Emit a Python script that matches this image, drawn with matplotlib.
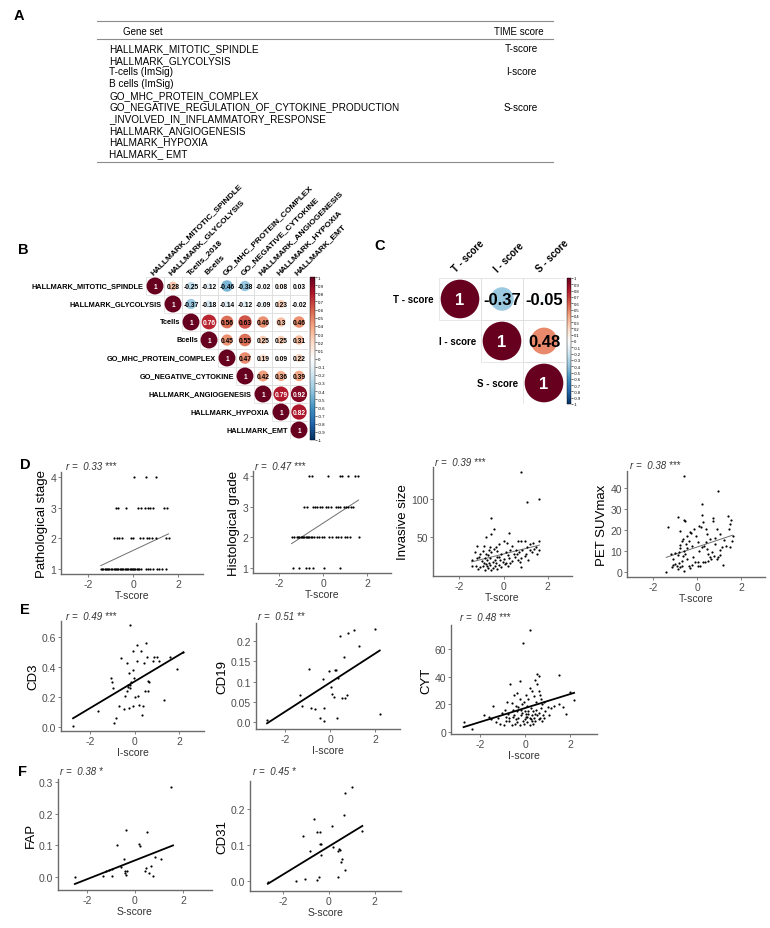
import numpy as np
import matplotlib
matplotlib.use("Agg")
import matplotlib.pyplot as plt
from matplotlib.patches import Circle, Rectangle
from matplotlib.colors import LinearSegmentedColormap, Normalize
from matplotlib.cm import ScalarMappable

plt.rcParams['font.family'] = ['Liberation Sans', 'DejaVu Sans']

# ---------------- data ----------------
gene_sets = ["HALLMARK_MITOTIC_SPINDLE", "HALLMARK_GLYCOLYSIS", "T-cells (ImSig)",
             "B cells (ImSig)", "GO_MHC_PROTEIN_COMPLEX",
             "GO_NEGATIVE_REGULATION_OF_CYTOKINE_PRODUCTION",
             "_INVOLVED_IN_INFLAMMATORY_RESPONSE", "HALLMARK_ANGIOGENESIS",
             "HALMARK_HYPOXIA", "HALMARK_ EMT"]
time_scores = ["T-score", "I-score", "S-score"]
time_rows = [0, 2, 5]

gs_rows = ["HALLMARK_MITOTIC_SPINDLE", "HALLMARK_GLYCOLYSIS", "Tcells", "Bcells",
           "GO_MHC_PROTEIN_COMPLEX", "GO_NEGATIVE_CYTOKINE", "HALLMARK_ANGIOGENESIS",
           "HALLMARK_HYPOXIA", "HALLMARK_EMT"]
gs_cols = ["HALLMARK_MITOTIC_SPINDLE", "HALLMARK_GLYCOLYSIS", "Tcells_2018", "Bcells",
           "GO_MHC_PROTEIN_COMPLEX", "GO_NEGATIVE_CYTOKINE", "HALLMARK_ANGIOGENESIS",
           "HALLMARK_HYPOXIA", "HALLMARK_EMT"]
gs_corr = [[1, 0.28, -0.25, -0.12, -0.46, -0.38, -0.02, 0.08, 0.03],
           [1, -0.37, -0.18, -0.14, -0.12, -0.09, 0.23, -0.02],
           [1, 0.76, 0.56, 0.63, 0.46, 0.3, 0.46],
           [1, 0.45, 0.55, 0.25, 0.25, 0.31],
           [1, 0.47, 0.19, 0.09, 0.22],
           [1, 0.42, 0.36, 0.39],
           [1, 0.79, 0.92],
           [1, 0.82],
           [1]]

score_names = ["T - score", "I - score", "S - score"]
score_corr = [[1, -0.37, -0.05],
              [1, 0.48],
              [1]]

# D: T-score vs pathological stage / histological grade
stage1_t = [-1.44, -1.38, -1.32, -1.26, -1.2, -1.15, -1.1, -1.05, -0.99, -0.93, -0.87, -0.82,
            -0.77, -0.71, -0.65, -0.6, -0.55, -0.49, -0.43, -0.38, -0.33, -0.27, -0.21, -0.16,
            -0.11, -0.05, 0.0, 0.05, 0.1, 0.16, 0.22, 0.27, 0.33, 0.55, 0.67, 0.77, 0.89,
            1.04, 1.16, 1.29, 1.44]
stage2_t = [-0.83, -0.72, -0.61, -0.5, -0.09, 0.01, 0.31, 0.43, 0.61, 0.71, 0.83, 1.02, 1.45, 1.57]
stage3_t = [-0.77, -0.65, -0.32, 0.21, 0.36, 0.53, 0.65, 0.76, 0.86, 1.35, 1.5]
stage4_t = [0.05, 0.55, 1.0]
stage_fit_x = [-1.44, 1.57]
stage_fit_y = [1.12, 2.15]

grade1_t = [-1.39, -1.09, -0.78, -0.63, -0.47, 0.06, 0.75]
grade2_t = [-1.44, -1.32, -1.21, -1.15, -1.09, -1.03, -0.98, -0.92, -0.86, -0.8, -0.75, -0.69,
            -0.63, -0.57, -0.52, -0.4, -0.29, -0.17, -0.06, 0.06, 0.29, 0.4, 0.6, 0.7, 0.83,
            0.98, 1.09, 1.21, 1.62]
grade3_t = [-0.86, -0.75, -0.47, -0.37, -0.26, -0.15, -0.03, 0.12, 0.23, 0.34, 0.57, 0.68,
            0.78, 0.94, 1.04, 1.15, 1.26, 1.38]
grade4_t = [-0.63, -0.52, 0.22, 0.75, 0.86, 1.13, 1.47, 1.59]
grade_fit_x = [-1.44, 1.62]
grade_fit_y = [1.8, 3.21]

invasive_pts = [(0.8, 135), (1.05, 95), (1.6, 100), (-0.57, 74), (-0.45, 60), (-0.57, 53),
                (-0.8, 50), (0.25, 55), (0.0, 45), (0.15, 42), (0.65, 45), (0.8, 45), (0.95, 44),
                (1.2, 40), (1.35, 42), (1.6, 45), (0.4, 38), (-0.2, 40), (-0.35, 36), (-0.6, 37),
                (-0.9, 38), (-1.2, 38), (1.05, 37), (1.45, 37), (0.55, 33), (-0.65, 33),
                (-0.45, 34), (-1.3, 30), (-1.05, 27), (-0.8, 28), (-0.55, 30), (-0.3, 31),
                (-0.1, 28), (0.1, 30), (0.3, 32), (0.45, 28), (0.7, 30), (0.85, 33), (1.0, 28),
                (1.2, 33), (1.3, 30), (1.5, 28), (1.6, 32), (-0.95, 31), (-0.7, 26), (0.6, 27),
                (1.4, 34), (0.2, 26), (-0.2, 24), (-1.45, 20), (-1.2, 22), (-1.0, 18),
                (-0.85, 22), (-0.75, 19), (-0.6, 22), (-0.5, 17), (-0.4, 20), (-0.3, 23),
                (-0.15, 19), (0.0, 21), (0.1, 16), (0.25, 22), (0.4, 18), (0.5, 24), (0.65, 20),
                (0.8, 22), (0.95, 25), (1.1, 20), (-0.9, 15), (-0.65, 16), (-0.35, 15),
                (-0.05, 17), (0.3, 16), (-1.1, 24), (0.75, 17), (-1.45, 12), (-1.15, 8),
                (-1.05, 10), (-0.95, 12), (-0.85, 7), (-0.75, 11), (-0.7, 9), (-0.6, 13),
                (-0.5, 9), (-0.4, 12), (-0.3, 8), (-0.2, 13), (-0.1, 10), (0.05, 14), (0.2, 12),
                (-0.55, 6), (-1.25, 11), (0.8, 10), (-0.8, 14)]
invasive_fit_x = [-1.45, 1.62]
invasive_fit_y = [17, 39]

pet_pts = [(-0.58, 45.6), (0.94, 38.4), (0.23, 32.4), (-1.33, 21.6), (-0.85, 25.9), (-0.58, 24.5),
           (-0.55, 24.3), (0.23, 27), (0.27, 23.7), (0.71, 25.5), (0.74, 24), (1.41, 26.5),
           (1.57, 24.8), (1.52, 23), (0.09, 22), (0.18, 21.5), (-0.27, 18.6), (-0.77, 19.4),
           (-0.47, 17.3), (-0.65, 15.7), (-0.68, 14.8), (-0.8, 12.9), (-0.77, 11.3), (-0.83, 9.6),
           (-1.0, 8.9), (-1.2, 8.6), (-1.08, 6.2), (-1.11, 3.4), (-1.14, 2.2), (-1.41, 0.3),
           (-0.92, 3), (-0.89, 1.7), (-0.8, 2.4), (-0.7, 5.4), (-0.65, 7.8), (-0.55, 8.6),
           (-0.47, 6.2), (-0.39, 3), (-0.32, 2), (-0.58, 0.6), (-0.2, 7), (-0.09, 4.9),
           (0.02, 4.6), (0.03, 2.7), (0.14, 2.7), (0.09, 9.8), (0.21, 11.7), (0.32, 12.2),
           (0.41, 14.4), (0.47, 10.9), (0.52, 8.6), (0.6, 7), (0.67, 9.7), (0.79, 7.8),
           (0.91, 6.2), (1.03, 8.1), (1.06, 10.6), (1.14, 11.7), (1.21, 15.4), (1.33, 12.2),
           (1.17, 3.4), (1.52, 11.7), (1.59, 14.9), (1.44, 20.5), (0.91, 20.2), (1.03, 18.1),
           (0.6, 15.7), (0.47, 18.1), (0.41, 20.5), (-0.05, 17), (-0.14, 20.5), (-0.33, 19.2),
           (-0.39, 14.9), (-0.5, 13.3), (-0.24, 12.5), (0.02, 14.1), (0.83, 13.3), (0.8, 16),
           (1.62, 17), (0.52, 5.4), (0.38, 4.9), (0.64, 6.2), (0.94, 7), (-0.47, 11.3),
           (-0.62, 10.2), (-0.88, 8.1), (-1.03, 3.9), (-0.82, 4.3), (-0.7, 3), (-0.24, 3.4),
           (0.27, 4.9)]
pet_fit_x = [-1.41, 1.62]
pet_fit_y = [7.0, 17.5]

# E: I-score vs CD3 / CD19 / CYT
cd3_pts = [(-2.76, 0.01), (-1.63, 0.11), (-1.08, 0.33), (-1.0, 0.3), (-0.98, 0.26), (-0.93, 0.03),
           (-0.85, 0.06), (-0.7, 0.14), (-0.6, 0.46), (-0.48, 0.12), (-0.45, 0.21), (-0.36, 0.43),
           (-0.33, 0.24), (-0.25, 0.13), (-0.25, 0.36), (-0.21, 0.68), (-0.2, 0.28), (-0.17, 0.3),
           (-0.19, 0.26), (-0.1, 0.51), (-0.1, 0.38), (-0.06, 0.14), (-0.04, 0.33), (0.09, 0.44),
           (0.12, 0.55), (0.14, 0.21), (0.18, 0.15), (0.27, 0.51), (0.31, 0.08), (0.35, 0.14),
           (0.43, 0.43), (0.46, 0.24), (0.6, 0.24), (0.52, 0.56), (0.55, 0.47), (0.58, 0.31),
           (0.64, 0.3), (0.82, 0.44), (0.87, 0.47), (1.01, 0.47), (1.07, 0.44), (1.29, 0.18),
           (1.57, 0.47), (1.87, 0.39), (2.17, 0.5), (-0.32, 0.27), (-0.28, 0.28), (0.0, 0.2)]
cd3_fit_x = [-2.76, 2.17]
cd3_fit_y = [0.06, 0.50]

cd19_pts = [(-2.81, 0.005), (-1.33, 0.067), (-0.96, 0.131), (-1.26, 0.039), (-0.86, 0.036),
            (-0.67, 0.032), (-0.44, 0.009), (-0.3, 0.003), (-0.3, 0.036), (-0.32, 0.106),
            (-0.07, 0.127), (0.04, 0.088), (0.07, 0.07), (0.15, 0.061), (0.19, 0.13),
            (0.24, 0.128), (0.3, 0.01), (0.33, 0.11), (0.44, 0.212), (0.52, 0.06), (0.59, 0.16),
            (0.67, 0.06), (0.74, 0.067), (0.81, 0.22), (1.04, 0.228), (1.26, 0.188),
            (2.0, 0.231), (2.22, 0.021)]
cd19_fit_x = [-2.81, 2.2]
cd19_fit_y = [-0.003, 0.177]

cyt_pts = [(0.22, 74), (-0.1, 64.6), (1.51, 41.2), (0.52, 42), (0.62, 40.5), (-0.67, 34.7),
           (-0.22, 37), (-1.44, 19), (-1.85, 12.5), (-2.74, 7.4), (-2.37, 2.2), (1.84, 13),
           (2.0, 28.7), (2.18, 23.4), (0.45, 38), (0.55, 35), (0.6, 30), (0.3, 30), (0.2, 32),
           (0.05, 27), (-0.35, 28), (-0.5, 27), (-0.25, 24), (0.4, 26), (0.65, 27), (0.7, 24),
           (0.85, 22), (0.75, 20), (0.5, 22), (0.15, 24), (-0.05, 22), (-0.15, 20), (-0.4, 19),
           (-0.6, 21), (-0.8, 22), (-1.05, 14), (-1.2, 10), (-1.3, 7), (-1.1, 6), (-0.95, 5),
           (-0.85, 8), (-0.7, 10), (-0.75, 13), (-0.5, 12), (-0.55, 16), (-0.35, 15), (-0.3, 10),
           (-0.2, 12), (-0.1, 8), (0.0, 15), (0.05, 11), (0.1, 7), (0.15, 13), (0.25, 9),
           (0.3, 12), (0.35, 15), (0.4, 10), (0.45, 8), (0.55, 12), (0.6, 14), (0.65, 10),
           (0.7, 17), (0.8, 12), (0.9, 15), (1.0, 18), (1.15, 17), (1.3, 19), (1.5, 20),
           (1.7, 18), (-0.6, 5), (-0.45, 6), (-0.25, 5), (-0.05, 6), (0.2, 5), (0.35, 6),
           (-0.9, 16), (-1.5, 9), (-1.6, 11), (-0.3, 18), (0.1, 19), (0.25, 17), (-0.7, 8),
           (-0.4, 9), (0.5, 16), (0.75, 8), (0.05, 13), (-0.15, 14), (-0.55, 11), (0.45, 13),
           (0.2, 10), (0.0, 9), (-0.35, 7), (0.1, 11), (0.3, 8), (0.6, 9), (1.05, 12),
           (0.85, 10), (-0.85, 11), (-0.2, 16), (0.15, 15)]
cyt_fit_x = [-2.74, 2.18]
cyt_fit_y = [3.4, 28.3]

# F: S-score vs FAP / CD31
fap_pts = [(-2.5, 0.001), (-1.32, 0.002), (-1.2, 0.02), (-1.08, 0.022), (-0.95, 0.004),
           (-0.94, 0.024), (-0.74, 0.1), (-0.6, 0.033), (-0.46, 0.057), (-0.43, 0.012),
           (-0.4, 0.018), (-0.37, 0.008), (-0.39, 0.15), (-0.35, 0.02), (0.17, 0.104),
           (0.2, 0.098), (0.42, 0.018), (0.44, 0.028), (0.51, 0.143), (0.58, 0.014),
           (0.68, 0.035), (0.75, 0.004), (0.82, 0.062), (1.07, 0.058), (1.49, 0.285)]
fap_fit_x = [-2.5, 1.58]
fap_fit_y = [-0.022, 0.10]

cd31_pts = [(-2.67, -0.004), (-1.43, 0.001), (-1.04, 0.004), (-1.14, 0.126), (-0.81, 0.084),
            (-0.67, 0.172), (-0.52, 0.135), (-0.52, 0.003), (-0.42, 0.01), (-0.39, 0.102),
            (-0.37, 0.135), (-0.35, 0.102), (-0.35, 0.073), (0.12, 0.154), (0.16, 0.095),
            (0.38, 0.082), (0.4, 0.01), (0.43, 0.09), (0.47, 0.085), (0.52, 0.052),
            (0.55, 0.06), (0.67, 0.184), (0.7, 0.246), (0.72, 0.03), (1.03, 0.262), (1.46, 0.14)]
cd31_fit_x = [-2.67, 1.46]
cd31_fit_y = [-0.008, 0.153]

# ---------------- layout helpers ----------------
W, H = 770, 929


def box(l, t, r, b):
    return [l / W, 1 - b / H, (r - l) / W, (b - t) / H]


fig = plt.figure(figsize=(W / 100, H / 100), dpi=100)
ov = fig.add_axes([0, 0, 1, 1])
ov.set_xlim(0, W)
ov.set_ylim(H, 0)
ov.axis('off')

for lab, (lx, ly) in zip("ABCDEF", [(14, 16), (18, 250), (374, 246), (20, 465), (20, 610), (18, 772)]):
    ov.text(lx, ly, lab, fontsize=10.5, fontweight='bold', ha='left', va='center')

# ---------------- A: table ----------------
for yy in (22, 40, 163):
    ov.plot([97, 553], [yy, yy], color='#8c8c8c', lw=0.8)
ov.text(123, 32, "Gene set", fontsize=7, va='center')
ov.text(519, 32, "TIME score", fontsize=7, ha='center', va='center')
for i, g in enumerate(gene_sets):
    ov.text(109, 49 + 11.7 * i, g, fontsize=7.2, va='center')
for name, row in zip(time_scores, time_rows):
    ov.text(521, 49 + 11.7 * row, name, fontsize=7.2, ha='center', va='center')

# ---------------- B, C: correlation plots ----------------
cmap = LinearSegmentedColormap.from_list(
    "corr", ["#053061", "#2166AC", "#4393C3", "#92C5DE", "#D1E5F0", "#FFFFFF",
             "#FDDBC7", "#F4A582", "#D6604D", "#B2182B", "#67001F"])
norm = Normalize(-1, 1)


def corr_panel(abox, cbox, rows, cols, vals, num_fs, row_fs, col_fs, cb_fs, rad):
    ax = fig.add_axes(box(*abox))
    n = len(rows)
    ax.set_xlim(0, n)
    ax.set_ylim(n, 0)
    ax.axis('off')
    for i in range(n):
        for j in range(i, n):
            v = vals[i][j - i]
            ax.add_patch(Rectangle((j, i), 1, 1, fill=False, edgecolor='#dddddd', lw=0.5))
            ax.add_patch(Circle((j + 0.5, i + 0.5), rad * np.sqrt(abs(v)),
                                facecolor=cmap(norm(v)), edgecolor='none'))
            col = 'white' if abs(v) >= 0.75 else 'black'
            ax.text(j + 0.5, i + 0.52, f"{v:g}", ha='center', va='center',
                    fontsize=num_fs, fontweight='bold', color=col)
        ax.text(i - 0.12, i + 0.5, rows[i], ha='right', va='center',
                fontsize=row_fs, fontweight='bold')
        ax.text(i + 0.35, -0.2, cols[i], rotation=45, rotation_mode='anchor',
                ha='left', va='center', fontsize=col_fs, fontweight='bold')
    cax = fig.add_axes(box(*cbox))
    cb = fig.colorbar(ScalarMappable(norm=norm, cmap=cmap), cax=cax)
    ticks = np.round(np.arange(-1, 1.001, 0.1), 1)
    cb.set_ticks(ticks)
    cb.set_ticklabels([f"{t + 0.0:g}" for t in ticks])
    cb.ax.tick_params(labelsize=cb_fs, length=1.2, width=0.4, pad=0.8)
    cb.outline.set_linewidth(0.3)


corr_panel((146, 278, 308, 440), (310, 278, 315, 441), gs_rows, gs_cols, gs_corr,
           4.8, 5.3, 6.0, 3.2, 0.47)
corr_panel((439, 279, 565, 405), (567, 279, 571, 405), score_names, score_names, score_corr,
           12, 7, 7, 3.0, 0.46)

# ---------------- D, E, F: scatter panels ----------------


def scatter_panel(pbox, xs, ys, fx, fy, xlim, ylim, yticks, ytl, xlabel, ylabel,
                  rtext, rpos, thin):
    ax = fig.add_axes(box(*pbox))
    ax.scatter(xs, ys, s=2.5, c='black', linewidths=0, zorder=3)
    if thin:
        ax.plot(fx, fy, color='#6e6e6e', lw=0.7, zorder=2)
    else:
        ax.plot(fx, fy, color='black', lw=1.3, zorder=2)
    ax.set_xlim(*xlim)
    ax.set_ylim(*ylim)
    ax.set_xticks([-2, 0, 2])
    ax.set_xticklabels(["-2", "0", "2"])
    ax.set_yticks(yticks)
    ax.set_yticklabels(ytl)
    for s in ('top', 'right'):
        ax.spines[s].set_visible(False)
    for s in ('left', 'bottom'):
        ax.spines[s].set_color('#6b6b6b')
        ax.spines[s].set_linewidth(1.0)
    ax.tick_params(length=2, width=0.6, color='#6b6b6b', labelsize=7.5,
                   labelcolor='#4d4d4d', pad=1.5)
    ax.set_xlabel(xlabel, fontsize=7.5, labelpad=0.5, color='#333333')
    ax.set_ylabel(ylabel, fontsize=9.5, labelpad=1.5)
    ov.text(rpos[0], rpos[1], rtext, fontsize=7, style='italic', color='#333333',
            ha='left', va='center')
    return ax


stage_t = stage1_t + stage2_t + stage3_t + stage4_t
stage_y = [1] * len(stage1_t) + [2] * len(stage2_t) + [3] * len(stage3_t) + [4] * len(stage4_t)
grade_t = grade1_t + grade2_t + grade3_t + grade4_t
grade_y = [1] * len(grade1_t) + [2] * len(grade2_t) + [3] * len(grade3_t) + [4] * len(grade4_t)

scatter_panel((61, 473, 203, 575), stage_t, stage_y, stage_fit_x, stage_fit_y,
              (-3.2, 3.1), (0.85, 4.15), [1, 2, 3, 4], ["1", "2", "3", "4"],
              "T-score", "Pathological stage", "r =  0.33 ***", (66, 467), True)
scatter_panel((253, 472, 391, 574), grade_t, grade_y, grade_fit_x, grade_fit_y,
              (-3.2, 3.1), (0.85, 4.15), [1, 2, 3, 4], ["1", "2", "3", "4"],
              "T-score", "Histological grade", "r =  0.47 ***", (255, 467), True)

inv = np.array(invasive_pts).T
scatter_panel((433, 468, 572, 577), inv[0], inv[1], invasive_fit_x, invasive_fit_y,
              (-3.2, 3.1), (-1.5, 141.5), [50, 100], ["50", "100"],
              "T-score", "Invasive size", "r =  0.39 ***", (435, 463), True)
pet = np.array(pet_pts).T
scatter_panel((627, 472, 765, 578), pet[0], pet[1], pet_fit_x, pet_fit_y,
              (-3.2, 3.1), (-2.3, 47.9), [0, 10, 20, 30, 40], ["0", "10", "20", "30", "40"],
              "T-score", "PET SUVmax", "r =  0.38 ***", (630, 466), True)

cd3 = np.array(cd3_pts).T
scatter_panel((61, 622, 204, 732), cd3[0], cd3[1], cd3_fit_x, cd3_fit_y,
              (-3.3, 3.1), (-0.025, 0.71), [0.0, 0.2, 0.4, 0.6], ["0.0", "0.2", "0.4", "0.6"],
              "I-score", "CD3", "r =  0.49 ***", (66, 617), False)
cd19 = np.array(cd19_pts).T
scatter_panel((256, 624, 400, 730), cd19[0], cd19[1], cd19_fit_x, cd19_fit_y,
              (-3.3, 3.1), (-0.017, 0.245), [0.0, 0.05, 0.1, 0.15, 0.2],
              ["0.0", "0.05", "0.1", "0.15", "0.2"],
              "I-score", "CD19", "r =  0.51 **", (258, 617), False)
cyt = np.array(cyt_pts).T
scatter_panel((451, 626, 597, 735), cyt[0], cyt[1], cyt_fit_x, cyt_fit_y,
              (-3.3, 3.2), (-1.6, 77.6), [0, 20, 40, 60], ["0", "20", "40", "60"],
              "I-score", "CYT", "r =  0.48 ***", (460, 618), False)

fap = np.array(fap_pts).T
scatter_panel((58, 780, 212, 891), fap[0], fap[1], fap_fit_x, fap_fit_y,
              (-3.2, 3.2), (-0.041, 0.31), [0.0, 0.1, 0.2, 0.3], ["0.0", "0.1", "0.2", "0.3"],
              "S-score", "FAP", "r =  0.38 *", (60, 772), False)
cd31 = np.array(cd31_pts).T
scatter_panel((250, 782, 401, 892), cd31[0], cd31[1], cd31_fit_x, cd31_fit_y,
              (-3.45, 3.15), (-0.028, 0.278), [0.0, 0.1, 0.2], ["0.0", "0.1", "0.2"],
              "S-score", "CD31", "r =  0.45 *", (253, 772), False)

fig.savefig("out.png", dpi=100)
